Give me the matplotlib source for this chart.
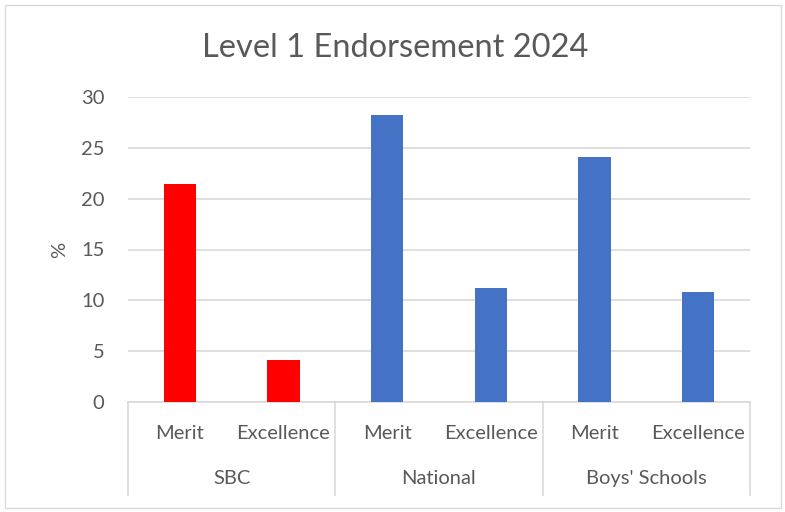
import matplotlib
matplotlib.use("Agg")
import matplotlib.pyplot as plt
from matplotlib.patches import Rectangle

groups = ["SBC", "National", "Boys' Schools"]
subcats = ["Merit", "Excellence"]
values = [21.4, 4.1, 28.2, 11.2, 24.1, 10.8]
colors = ["#FF0000", "#FF0000", "#4472C4", "#4472C4", "#4472C4", "#4472C4"]
yticks = [0, 5, 10, 15, 20, 25, 30]
title = "Level 1 Endorsement 2024"
ylabel = "%"

plt.rcParams['font.family'] = ['Lato', 'DejaVu Sans']
txt = "#595959"
grid = "#D9D9D9"
fs = 14.5

fig = plt.figure(figsize=(7.85, 5.12), dpi=100)
fig.patches.append(Rectangle((5/785, 4/512), 776/785, 503/512, transform=fig.transFigure,
                             fill=False, edgecolor=grid, linewidth=1))
ax = fig.add_axes([128/785, 1-402/512, 622/785, 305/512])

n = len(values)
xs = list(range(n))
ax.bar(xs, values, width=0.31, color=colors, zorder=3)
ax.set_xlim(-0.5, n-0.5)
ax.set_ylim(0, 30)
ax.set_yticks(yticks)
ax.set_yticklabels([str(t) for t in yticks])
ax.tick_params(axis='y', length=0, pad=17, labelsize=fs, labelcolor=txt)
ax.set_xticks([])
for s in ["top", "right", "left"]:
    ax.spines[s].set_visible(False)
ax.spines["bottom"].set_color(grid)
ax.spines["bottom"].set_linewidth(1.2)
ax.yaxis.grid(True, color=grid, linewidth=1.2, zorder=0)
ax.set_axisbelow(True)

ax.set_ylabel(ylabel, color=txt, fontsize=fs)
ax.yaxis.set_label_coords(-60/622, 0.5)

trans = ax.get_xaxis_transform()
for i in range(n):
    ax.text(xs[i], -0.104, subcats[i % 2], transform=trans, ha='center', va='center',
            fontsize=fs, color=txt)
ng = len(groups)
for g in range(ng):
    ax.text(2*g + 0.5, -0.252, groups[g], transform=trans, ha='center', va='center',
            fontsize=fs, color=txt)
for b in range(ng + 1):
    ax.plot([2*b - 0.5, 2*b - 0.5], [0, -0.305], transform=trans, color=grid,
            linewidth=1.2, clip_on=False)

fig.text(395/785, 1-48/512, title, ha='center', va='center', fontsize=23.5, color=txt)

fig.savefig("out.png", dpi=100)
